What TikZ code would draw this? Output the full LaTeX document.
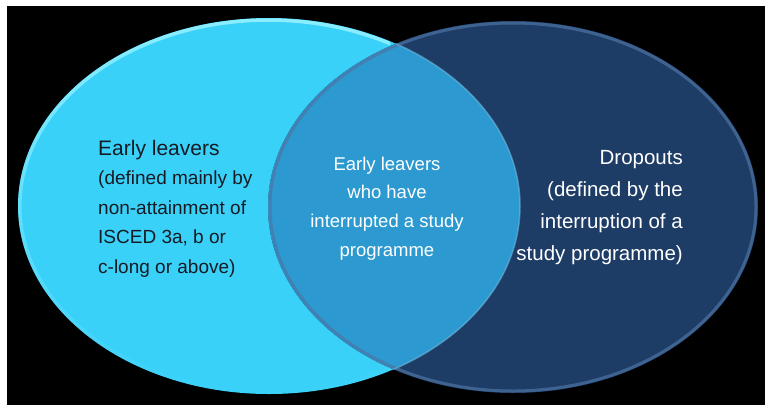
\documentclass[tikz,border=0pt]{standalone}
\usepackage{fontspec}
\setmainfont{Liberation Sans}
\usetikzlibrary{fadings}
\definecolor{leavercyan}{RGB}{58,209,249}
\definecolor{leaverrim}{RGB}{140,238,255}
\definecolor{dropnavy}{RGB}{30,61,102}
\definecolor{droprim}{RGB}{78,116,163}
\definecolor{overlapblue}{RGB}{44,154,208}
\definecolor{leavertext}{RGB}{22,26,34}
\tikzfading[name=rimfade, top color=transparent!0, bottom color=transparent!100]
\tikzset{
  lefttext/.style={align=left, inner sep=0pt, text=leavertext, font=\fontsize{19}{29.5}\selectfont},
  midtext/.style={align=center, inner sep=0pt, text=white, font=\fontsize{18.5}{28.7}\selectfont},
  righttext/.style={align=right, inner sep=0pt, text=white, font=\fontsize{20.5}{32}\selectfont}
}
\begin{document}
\begin{tikzpicture}[x=1pt, y=-1pt]
  \useasboundingbox (0,0) rectangle (765,405);
  \fill[black] (7,6) rectangle (765,405);

  % the two sets
  \fill[leavercyan] (269,206) ellipse [x radius=251pt, y radius=188pt];
  \fill[dropnavy] (513,207) ellipse [x radius=245pt, y radius=186pt];
  \begin{scope}
    \clip (269,206) ellipse [x radius=251pt, y radius=188pt];
    \fill[overlapblue] (513,207) ellipse [x radius=245pt, y radius=186pt];
  \end{scope}

  % rims
  \begin{scope}
    \clip (0,0) rectangle (390,405);
    \draw[leaverrim, line width=3.5pt, path fading=rimfade, fit fading=true] (269,206) ellipse [x radius=249pt, y radius=186pt];
  \end{scope}
  \draw[droprim, line width=3pt, opacity=.7] (513,207) ellipse [x radius=243pt, y radius=184pt];
  \begin{scope}
    \clip (513,207) ellipse [x radius=245pt, y radius=186pt];
    \draw[overlapblue!70!white, line width=1.5pt, opacity=.6] (269,206) ellipse [x radius=251pt, y radius=188pt];
  \end{scope}

  % labels
  \node[lefttext, anchor=north west] (leavers) at (98,140)
    {{\fontsize{21}{29.5}\selectfont Early leavers}\\(defined mainly by\\non-attainment of\\ISCED 3a, b or\\c-long or above)};
  \node[midtext, anchor=north] (both) at (387,156.5)
    {Early leavers\\who have\\interrupted a study\\programme};
  \node[righttext, anchor=north east] (dropouts) at (683,150.3)
    {Dropouts\\(defined by the\\interruption of a\\study programme)};
\end{tikzpicture}
\end{document}
